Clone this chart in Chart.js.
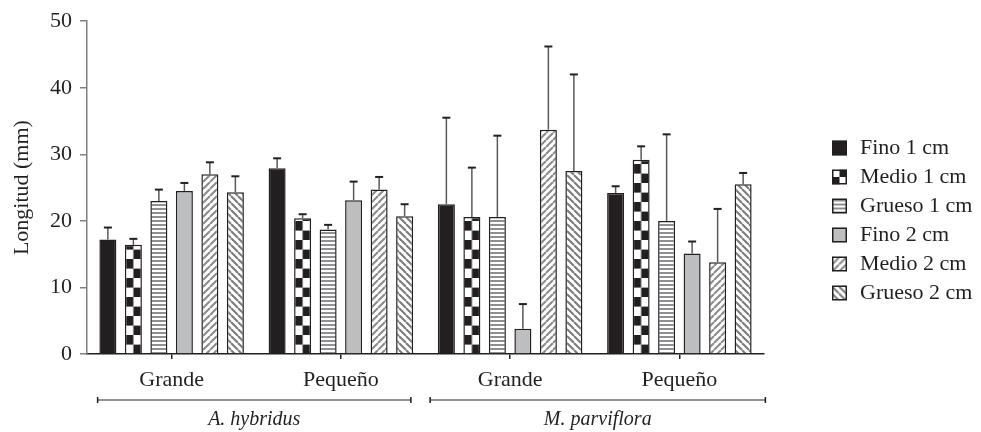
<!DOCTYPE html>
<html>
<head>
<meta charset="utf-8">
<script src="https://cdn.jsdelivr.net/npm/chart.js@4/dist/chart.umd.min.js"></script>
<style>
  html, body { margin: 0; padding: 0; background: #fff; }
  #wrap { width: 981px; height: 432px; position: relative; }
</style>
</head>
<body>
<div id="wrap"><canvas id="c" width="981" height="432"></canvas></div>
<script>
// Categories on the x axis and the species each pair belongs to
const categories = ['Grande', 'Pequeño', 'Grande', 'Pequeño'];
const speciesLabels = ['A. hybridus', 'M. parviflora'];
const speciesRanges = [[0, 1], [2, 3]];

// Series names
const seriesNames = ['Fino 1 cm', 'Medio 1 cm', 'Grueso 1 cm', 'Fino 2 cm', 'Medio 2 cm', 'Grueso 2 cm'];

// Mean length (mm) per series
const fino1   = [17.2, 27.9, 22.5, 24.2];
const medio1  = [16.4, 20.4, 20.6, 29.2];
const grueso1 = [23.0, 18.7, 20.6, 20.0];
const fino2   = [24.5, 23.1, 3.8, 15.1];
const medio2  = [27.0, 24.7, 33.7, 13.8];
const grueso2 = [24.3, 20.7, 27.5, 25.5];

// Standard deviation per series (upper error bar)
const fino1Sd   = [1.8, 1.5, 13.0, 1.0];
const medio1Sd  = [0.9, 0.6, 7.4, 2.0];
const grueso1Sd = [1.7, 0.7, 12.2, 13.0];
const fino2Sd   = [1.2, 2.8, 3.7, 1.8];
const medio2Sd  = [1.8, 1.9, 12.5, 8.0];
const grueso2Sd = [2.4, 1.8, 14.5, 1.7];

// Y axis ticks
const yTicks = [0, 10, 20, 30, 40, 50];

const INK = '#231f20';
const FONT = '"Liberation Serif", "DejaVu Serif", serif';
const FS = 22;
const CAT_PCT = 0.904;
const BAR_PCT = 0.667;

// ---- fill patterns ----
function tile(w, h, draw) {
  const c = document.createElement('canvas');
  c.width = w; c.height = h;
  const g = c.getContext('2d');
  draw(g, w, h);
  return c;
}
const hStripeTile = tile(4, 4, (g) => {
  g.fillStyle = '#fff'; g.fillRect(0, 0, 4, 4);
  g.fillStyle = '#8d8f92'; g.fillRect(0, 0, 4, 2);
});
function diagTile(forward, color) {
  return tile(7, 7, (g, w, h) => {
    g.fillStyle = '#fff'; g.fillRect(0, 0, w, h);
    g.strokeStyle = color; g.lineWidth = 2;
    g.beginPath();
    for (let k = -1; k <= 1; k++) {
      if (forward) { g.moveTo(k * w, h); g.lineTo(k * w + w, 0); }
      else { g.moveTo(k * w, 0); g.lineTo(k * w + w, h); }
    }
    g.stroke();
  });
}
const fwdTile = diagTile(true, '#8a8a8a');
const backTile = diagTile(false, '#7a7a7a');
const patCtx = document.getElementById('c').getContext('2d');
const hStripe = patCtx.createPattern(hStripeTile, 'repeat');
const fwdDiag = patCtx.createPattern(fwdTile, 'repeat');
const backDiag = patCtx.createPattern(backTile, 'repeat');

// checkerboard aligned to each bar: two cells across the bar width
const checkerCache = {};
function checkerFill(context) {
  const chart = context.chart;
  const xs = chart.scales.x, ys = chart.scales.y;
  if (!xs || !ys || !xs.width) return INK;
  const n = chart.data.datasets.length;
  const catW = xs.width / chart.data.labels.length;
  const slot = catW * CAT_PCT / n;
  const barW = slot * BAR_PCT;
  const center = xs.getPixelForValue(context.dataIndex) + (context.datasetIndex - (n - 1) / 2) * slot;
  const left = center - barW / 2;
  const key = barW.toFixed(2);
  if (!checkerCache[key]) {
    const w = Math.round(barW), cw = barW / 2, chh = 9.6;
    checkerCache[key] = tile(w, 19, (g) => {
      g.fillStyle = '#fff'; g.fillRect(0, 0, w, 19);
      g.fillStyle = INK;
      g.fillRect(0, 0, cw, chh);
      g.fillRect(cw, chh, w - cw, 19 - chh);
    });
  }
  const p = patCtx.createPattern(checkerCache[key], 'repeat');
  p.setTransform(new DOMMatrix().translate(left, ys.getPixelForValue(0)));
  return p;
}

const seriesValues = [fino1, medio1, grueso1, fino2, medio2, grueso2];
const seriesSd = [fino1Sd, medio1Sd, grueso1Sd, fino2Sd, medio2Sd, grueso2Sd];
const seriesFill = [INK, checkerFill, hStripe, '#bcbec0', fwdDiag, backDiag];

// legend swatch painters
function legendSwatch(ctx, i, x, y, s) {
  ctx.save();
  ctx.beginPath(); ctx.rect(x, y, s, s); ctx.clip();
  if (i === 0) { ctx.fillStyle = INK; ctx.fillRect(x, y, s, s); }
  else if (i === 3) { ctx.fillStyle = '#bcbec0'; ctx.fillRect(x, y, s, s); }
  else if (i === 1) {
    ctx.fillStyle = '#fff'; ctx.fillRect(x, y, s, s);
    ctx.fillStyle = INK;
    ctx.fillRect(x + s / 2, y, s / 2, s / 2);
    ctx.fillRect(x, y + s / 2, s / 2, s / 2);
  } else {
    const pp = patCtx.createPattern(i === 2 ? hStripeTile : (i === 4 ? fwdTile : backTile), 'repeat');
    pp.setTransform(new DOMMatrix().translate(x, y + 1));
    ctx.fillStyle = pp; ctx.fillRect(x, y, s, s);
  }
  ctx.restore();
  ctx.strokeStyle = INK; ctx.lineWidth = 1.5;
  ctx.strokeRect(x + 0.75, y + 0.75, s - 1.5, s - 1.5);
}

// error bars (upper whisker only)
const errorBars = {
  id: 'errorBars',
  afterDatasetsDraw(chart) {
    const ctx = chart.ctx, ys = chart.scales.y;
    chart.data.datasets.forEach((ds, di) => {
      const meta = chart.getDatasetMeta(di);
      meta.data.forEach((el, i) => {
        const top = ys.getPixelForValue(ds.data[i] + ds.sd[i]);
        ctx.save();
        ctx.strokeStyle = '#58595b'; ctx.lineWidth = 1.5;
        ctx.beginPath(); ctx.moveTo(el.x, el.y); ctx.lineTo(el.x, top); ctx.stroke();
        ctx.strokeStyle = INK; ctx.lineWidth = 2;
        ctx.beginPath(); ctx.moveTo(el.x - 4, top); ctx.lineTo(el.x + 4, top); ctx.stroke();
        ctx.restore();
      });
    });
  }
};

// species brackets under the category labels
const speciesBrackets = {
  id: 'speciesBrackets',
  afterDraw(chart) {
    const ctx = chart.ctx, xs = chart.scales.x;
    const pads = [[74, 70], [80, 86]];
    const yLine = 400;
    ctx.save();
    speciesRanges.forEach((r, k) => {
      const x0 = xs.getPixelForValue(r[0]) - pads[k][0];
      const x1 = xs.getPixelForValue(r[1]) + pads[k][1];
      ctx.strokeStyle = '#6d6e71'; ctx.lineWidth = 1.5;
      ctx.beginPath(); ctx.moveTo(x0, yLine); ctx.lineTo(x1, yLine); ctx.stroke();
      ctx.strokeStyle = INK;
      ctx.beginPath();
      ctx.moveTo(x0, yLine - 3); ctx.lineTo(x0, yLine + 3);
      ctx.moveTo(x1, yLine - 3); ctx.lineTo(x1, yLine + 3);
      ctx.stroke();
      ctx.fillStyle = INK;
      ctx.font = 'italic 20px ' + FONT;
      ctx.textAlign = 'center'; ctx.textBaseline = 'middle';
      ctx.fillText(speciesLabels[k], (x0 + x1) / 2, 420);
    });
    ctx.restore();
  }
};

// legend on the right
const sideLegend = {
  id: 'sideLegend',
  afterDraw(chart) {
    const ctx = chart.ctx;
    const x = 832, y0 = 148, step = 29, s = 15;
    ctx.save();
    chart.data.datasets.forEach((ds, i) => {
      const cy = y0 + i * step;
      legendSwatch(ctx, i, x, cy - s / 2, s);
      ctx.fillStyle = INK;
      ctx.font = FS + 'px ' + FONT;
      ctx.textAlign = 'left'; ctx.textBaseline = 'middle';
      ctx.fillText(ds.label, x + 28, cy);
    });
    ctx.restore();
  }
};

new Chart(document.getElementById('c'), {
  type: 'bar',
  data: {
    labels: categories,
    datasets: seriesNames.map((name, i) => ({
      label: name,
      data: seriesValues[i],
      sd: seriesSd[i],
      backgroundColor: seriesFill[i],
      borderColor: INK,
      borderWidth: 1.5,
      categoryPercentage: CAT_PCT,
      barPercentage: BAR_PCT
    }))
  },
  options: {
    responsive: false,
    animation: false,
    events: [],
    layout: { padding: { top: 16, right: 217, left: 0, bottom: 0 } },
    plugins: { legend: { display: false }, tooltip: { enabled: false } },
    scales: {
      x: {
        offset: true,
        grid: { offset: false, drawOnChartArea: false, tickLength: 5, color: INK, lineWidth: 1.5 },
        border: { color: INK, width: 1.5 },
        ticks: { color: INK, font: { family: FONT, size: FS }, padding: 8, maxRotation: 0 },
        afterFit(scale) { scale.height = 78; }
      },
      y: {
        min: 0, max: 50,
        afterBuildTicks(scale) { scale.ticks = yTicks.map(v => ({ value: v })); },
        grid: { drawOnChartArea: false, tickLength: 7, color: '#808080', lineWidth: 1.5 },
        border: { color: '#808080', width: 1.5 },
        ticks: { color: INK, font: { family: FONT, size: FS }, padding: 8 },
        title: { display: true, text: 'Longitud (mm)', color: INK, font: { family: FONT, size: FS }, padding: { top: 9, bottom: 0 } },
        afterFit(scale) { scale.width = 87; }
      }
    }
  },
  plugins: [errorBars, speciesBrackets, sideLegend]
});
</script>
</body>
</html>
